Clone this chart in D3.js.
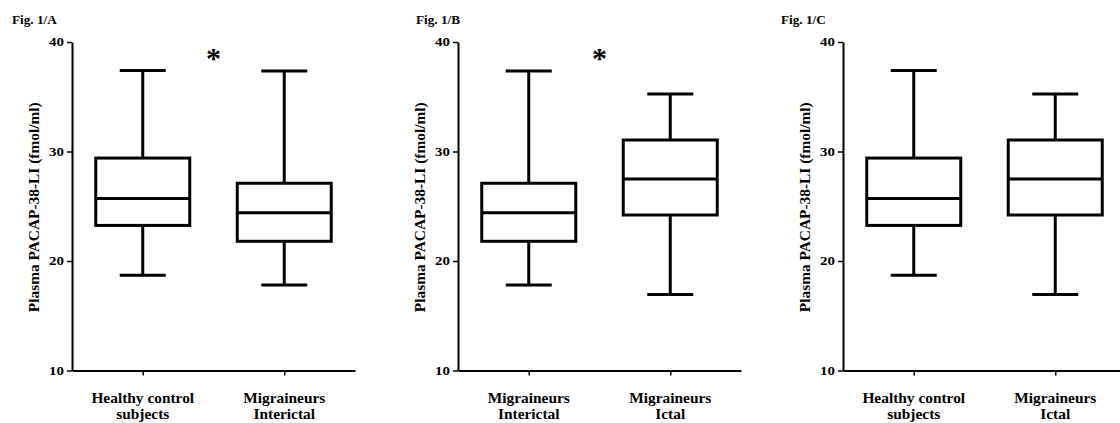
<!DOCTYPE html>
<html>
<head>
<meta charset="utf-8">
<script src="https://cdn.jsdelivr.net/npm/d3@7"></script>
<style>
  body { margin: 0; background: #fff; }
  text { font-family: "Liberation Serif", "Times New Roman", serif; font-weight: bold; fill: #000; }
</style>
</head>
<body>
<script>
// Groups and box statistics (fmol/ml)
const groupLines = [["Healthy control", "subjects"], ["Migraineurs", "Interictal"], ["Migraineurs", "Ictal"]];
const whiskerLow = [18.7, 17.8, 16.95];
const q1 = [23.25, 21.8, 24.2];
const median = [25.7, 24.4, 27.5];
const q3 = [29.4, 27.1, 31.05];
const whiskerHigh = [37.4, 37.35, 35.25];

// Panels: title, which two groups, whether the difference is marked significant
const panelTitles = ["Fig. 1/A", "Fig. 1/B", "Fig. 1/C"];
const panelGroups = [[0, 1], [1, 2], [0, 2]];
const panelStar = [true, true, false];
const yTicks = [10, 20, 30, 40];

const width = 1120, height = 423;
// left edge of each y axis and offset of its title
const axisLeft = [72, 458, 843];
const titleDx = [-60, -42, -62];
const plotW = 283;
const sx = 1.1; // the source figure's text is slightly widened

const svg = d3.select("body").append("svg")
  .attr("width", width).attr("height", height);

const y = d3.scaleLinear().domain([10, 40]).range([370.5, 42]);

panelTitles.forEach((title, p) => {
  const g = svg.append("g").attr("transform", `translate(${axisLeft[p]},0)`);
  const idx = panelGroups[p];
  const x = d3.scalePoint().domain(idx).range([0, plotW]).padding(0.5);

  // title
  g.append("text")
    .attr("transform", `translate(${titleDx[p]},24) scale(${sx},1)`)
    .attr("font-size", 12)
    .text(title);

  // y axis
  const ya = g.append("g")
    .call(d3.axisLeft(y).tickValues(yTicks).tickSize(5).tickSizeOuter(0).tickPadding(3));
  ya.select(".domain").attr("stroke-width", 2);
  ya.selectAll(".tick line").attr("stroke-width", 1.5);
  ya.selectAll(".tick text")
    .attr("font-size", 11.5)
    .attr("font-family", null)
    .attr("transform", `scale(1.3,1)`)
    .attr("x", -8 / 1.3);

  // y axis title
  g.append("text")
    .attr("transform", `translate(-33,${(y(10) + y(40)) / 2 + 1}) rotate(-90) scale(${sx},1)`)
    .attr("text-anchor", "middle")
    .attr("font-size", 14)
    .text("Plasma PACAP-38-LI (fmol/ml)");

  // x axis
  const xa = g.append("g")
    .attr("transform", `translate(0,${y(10)})`)
    .call(d3.axisBottom(x).tickSize(5).tickSizeOuter(0).tickFormat(""));
  xa.select(".domain").attr("stroke-width", 2);
  xa.selectAll(".tick line").attr("stroke-width", 1.5);

  // category labels
  const lab = g.selectAll(".cat").data(idx).join("text")
    .attr("class", "cat")
    .attr("text-anchor", "middle")
    .attr("font-size", 14)
    .attr("transform", d => `translate(${x(d)},403) scale(${sx},1)`);
  lab.selectAll("tspan").data(d => groupLines[d]).join("tspan")
    .attr("x", 0)
    .attr("dy", (d, i) => i === 0 ? 0 : 16.5)
    .text(d => d);

  // boxes
  const boxW = 94, capW = 46;
  const b = g.selectAll(".box").data(idx).join("g")
    .attr("class", "box")
    .attr("fill", "none")
    .attr("stroke", "#000")
    .attr("stroke-width", 3);
  b.append("line")
    .attr("x1", d => x(d)).attr("x2", d => x(d))
    .attr("y1", d => y(whiskerHigh[d])).attr("y2", d => y(q3[d]));
  b.append("line")
    .attr("x1", d => x(d)).attr("x2", d => x(d))
    .attr("y1", d => y(q1[d])).attr("y2", d => y(whiskerLow[d]));
  b.append("line")
    .attr("x1", d => x(d) - capW / 2).attr("x2", d => x(d) + capW / 2)
    .attr("y1", d => y(whiskerHigh[d])).attr("y2", d => y(whiskerHigh[d]));
  b.append("line")
    .attr("x1", d => x(d) - capW / 2).attr("x2", d => x(d) + capW / 2)
    .attr("y1", d => y(whiskerLow[d])).attr("y2", d => y(whiskerLow[d]));
  b.append("rect")
    .attr("x", d => x(d) - boxW / 2).attr("width", boxW)
    .attr("y", d => y(q3[d])).attr("height", d => y(q1[d]) - y(q3[d]))
    .attr("fill", "#fff");
  b.append("line")
    .attr("x1", d => x(d) - boxW / 2).attr("x2", d => x(d) + boxW / 2)
    .attr("y1", d => y(median[d])).attr("y2", d => y(median[d]));

  // significance marker between the two groups
  if (panelStar[p]) {
    g.append("text")
      .attr("x", (x(idx[0]) + x(idx[1])) / 2)
      .attr("y", y(38.9) + 14)
      .attr("text-anchor", "middle")
      .attr("font-size", 30)
      .text("*");
  }
});
</script>
</body>
</html>
